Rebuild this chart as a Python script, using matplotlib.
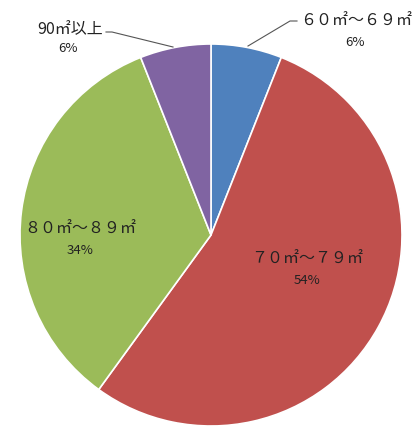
import matplotlib
matplotlib.use("Agg")
import matplotlib.pyplot as plt

plt.rcParams['font.family'] = ['Noto Sans CJK JP', 'DejaVu Sans']

# data
categories = ['６０㎡～６９㎡', '７０㎡～７９㎡', '８０㎡～８９㎡', '90㎡以上']
shares = [6, 54, 34, 6]
colors = ['#4F81BD', '#C0504D', '#9BBB59', '#8064A2']

fig = plt.figure(figsize=(4.12, 4.26), dpi=100)
ax = fig.add_axes([0, 0, 1, 1])

wedges, _ = ax.pie(shares, colors=colors, startangle=90, counterclock=False,
                   radius=1.0, wedgeprops=dict(edgecolor='white', linewidth=1.2))

# pixel -> data (center at 211,235 px, radius 191 px)
def px(x, y):
    return (x - 211) / 191.0, (235 - y) / 191.0

ax.set_xlim(-211 / 191.0, (412 - 211) / 191.0)
ax.set_ylim(-191 / 191.0, 235 / 191.0)
ax.set_aspect('equal')
ax.axis('off')

txt = '#222222'
label_pos = [(356, 21), (307, 259), (80, 229), (70, 30)]
pct_pos = [(355, 43), (307, 281), (80, 250), (68, 48)]
for name, val, lp, pp in zip(categories, shares, label_pos, pct_pos):
    ax.text(*px(*lp), name, ha='center', va='center', fontsize=11.5, color=txt)
    ax.text(*px(*pp), '%d%%' % val, ha='center', va='center', fontsize=9.5, color=txt)

# leader lines for the small slices
for pts in ([(248, 46), (290, 21), (297, 21)], [(173, 47), (112, 32), (106, 32)]):
    xs, ys = zip(*[px(*p) for p in pts])
    ax.plot(xs, ys, color='#555555', linewidth=0.8)

fig.savefig('out.png', dpi=100)
